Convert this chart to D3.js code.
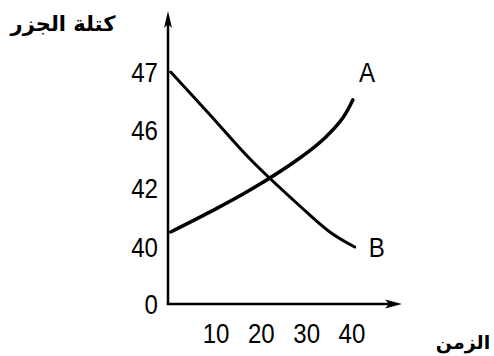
<!DOCTYPE html>
<html>
<head>
<meta charset="utf-8">
<script src="https://cdn.jsdelivr.net/npm/d3@7"></script>
<style>
  body { margin: 0; background: #fff; }
  .tick-label { font-family: "Liberation Sans", Arial, sans-serif; font-size: 28px; fill: #000; }
  .ar-label { font-family: "DejaVu Sans", sans-serif; font-weight: bold; fill: #000; }
</style>
</head>
<body>
<div id="chart"></div>
<script>
// data
const xTicks = [10, 20, 30, 40];
const yTicks = [0, 40, 42, 46, 47];   // unevenly spaced labels on an evenly spaced axis
const seriesA = [
    {x: 0, y: 40.51}, {x: 8.7, y: 41.19}, {x: 17.5, y: 41.93}, {x: 28.5, y: 44.07},
    {x: 34, y: 45.45}, {x: 38, y: 46.21}, {x: 40.2, y: 46.52}
];
const seriesB = [
    {x: 0, y: 47}, {x: 8.7, y: 46.26}, {x: 17.5, y: 44.0},
    {x: 28.5, y: 41.39}, {x: 35.1, y: 40.51}, {x: 40.6, y: 40}
];
const yTitle = "كتلة الجزر";
const xTitle = "الزمن";

const width = 494, height = 356;
const originX = 168, originY = 304;
const narrow = 0.86; // the labels use a condensed face

const svg = d3.select("#chart").append("svg")
    .attr("width", width)
    .attr("height", height);

let x = d3.scaleLinear()
    .domain([0, 40])
    .range([170.7, 352]);

// each label gets an equal step on the axis
let y = d3.scaleLinear()
    .domain(yTicks)
    .range([304, 247, 188, 130, 72]);

// axes with arrows
svg.append("line")
    .attr("x1", originX).attr("y1", originY)
    .attr("x2", originX).attr("y2", 20)
    .attr("stroke", "#000").attr("stroke-width", 2.5);
svg.append("path")
    .attr("d", `M${originX},11 L${originX - 4},28 L${originX},24 L${originX + 4},28 Z`)
    .attr("fill", "#000");

svg.append("line")
    .attr("x1", originX - 1.25).attr("y1", originY)
    .attr("x2", 395).attr("y2", originY)
    .attr("stroke", "#000").attr("stroke-width", 2.5);
svg.append("path")
    .attr("d", `M402,${originY} L385,${originY - 4.5} L389,${originY} L385,${originY + 4.5} Z`)
    .attr("fill", "#000");

function label(px, py, txt, anchor) {
    svg.append("text")
        .attr("class", "tick-label")
        .attr("transform", `translate(${px},${py}) scale(${narrow},1)`)
        .attr("dy", "0.36em")
        .attr("text-anchor", anchor)
        .text(txt);
}

// tick labels
yTicks.forEach(d => label(158, y(d), d, "end"));
xTicks.forEach(d => label(x(d), 333, d, "middle"));

// curves
let line = d3.line()
    .x(d => x(d.x))
    .y(d => y(d.y))
    .curve(d3.curveCatmullRom);

svg.append("path")
    .datum(seriesA)
    .attr("d", line)
    .attr("fill", "none")
    .attr("stroke", "#000")
    .attr("stroke-width", 3.5)
    .attr("stroke-linecap", "round");

svg.append("path")
    .datum(seriesB)
    .attr("d", line)
    .attr("fill", "none")
    .attr("stroke", "#000")
    .attr("stroke-width", 3)
    .attr("stroke-linecap", "round");

let lastA = seriesA[seriesA.length - 1], lastB = seriesB[seriesB.length - 1];
label(x(lastA.x) + 14, y(lastA.y) - 28, "A", "middle");
label(x(lastB.x) + 22, y(lastB.y), "B", "middle");

// arabic titles
svg.append("text").attr("class", "ar-label")
    .attr("x", 63).attr("y", 31)
    .attr("font-size", 21)
    .attr("text-anchor", "middle")
    .attr("direction", "rtl")
    .text(yTitle);
svg.append("text").attr("class", "ar-label")
    .attr("x", 463).attr("y", 349)
    .attr("font-size", 19)
    .attr("text-anchor", "middle")
    .attr("direction", "rtl")
    .text(xTitle);
</script>
</body>
</html>
